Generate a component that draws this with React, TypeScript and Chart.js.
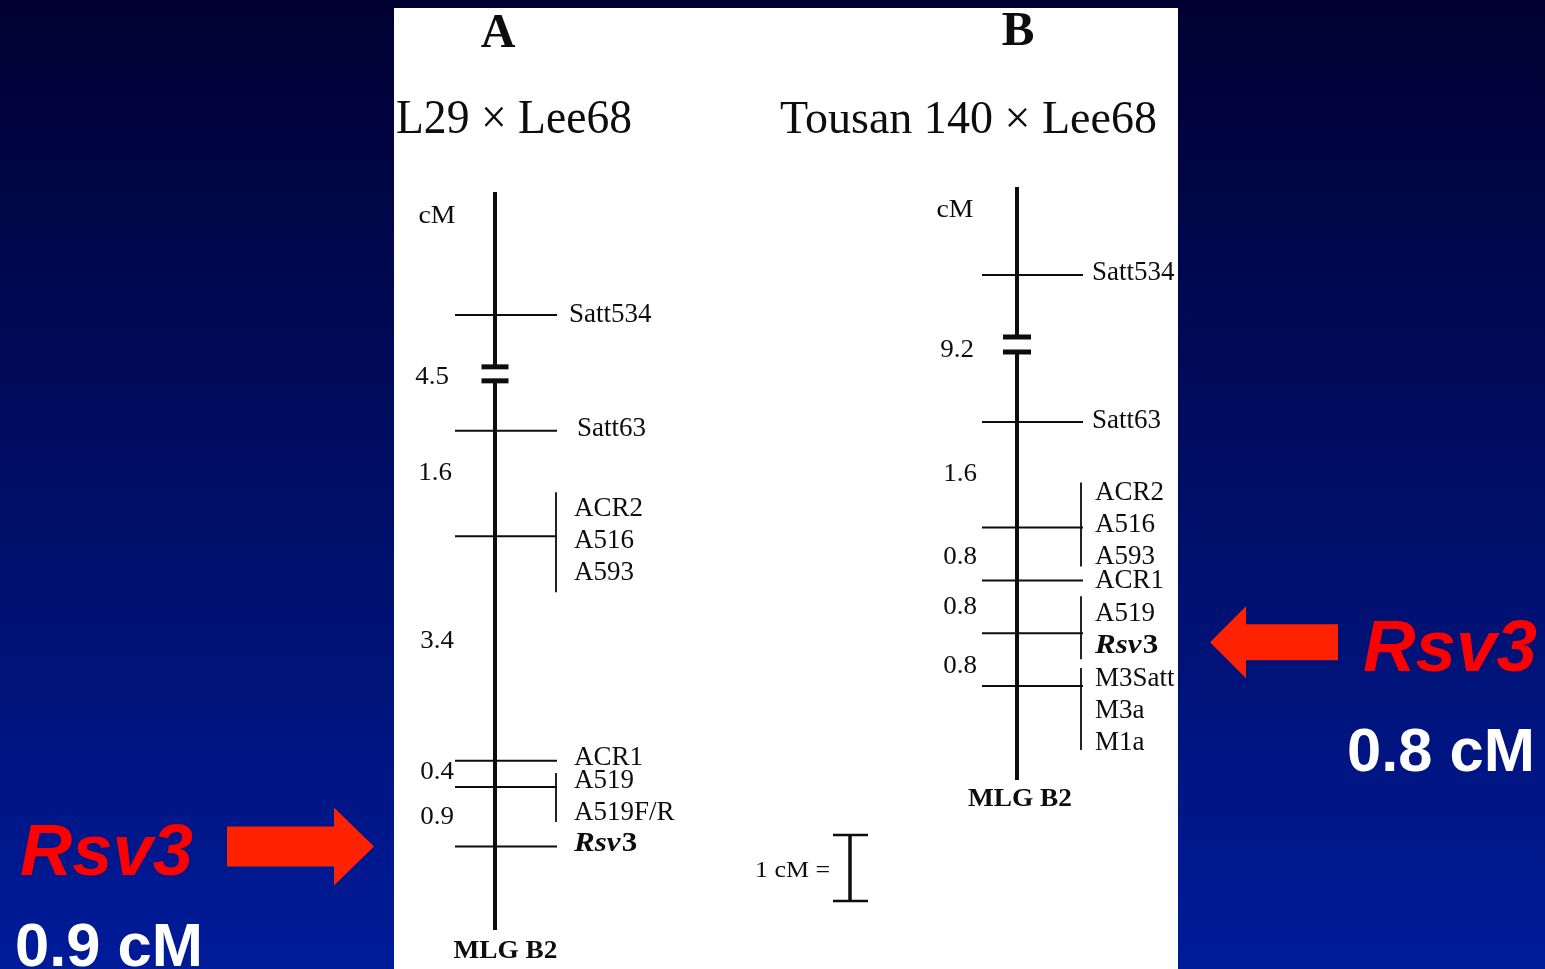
import React, { useEffect, useRef } from "react";
import { Chart, registerables } from "chart.js";

Chart.register(...registerables);

// ---------------- data ----------------
const mapTitles = ["A", "B"];
const crossNames = ["L29 × Lee68", "Tousan 140 × Lee68"];
const unitLabel = "cM";
const groupName = "MLG B2";

// Map A (L29 × Lee68): marker groups top→bottom and the cM intervals between them
const markersA: string[][] = [
  ["Satt534"],
  ["Satt63"],
  ["ACR2", "A516", "A593"],
  ["ACR1"],
  ["A519", "A519F/R"],
  ["Rsv3"],
];
const intervalsA = [4.5, 1.6, 3.4, 0.4, 0.9];
const brokenA = [true, false, false, false, false];

// Map B (Tousan 140 × Lee68)
const markersB: string[][] = [
  ["Satt534"],
  ["Satt63"],
  ["ACR2", "A516", "A593"],
  ["ACR1"],
  ["A519", "Rsv3"],
  ["M3Satt", "M3a", "M1a"],
];
const intervalsB = [9.2, 1.6, 0.8, 0.8, 0.8];
const brokenB = [true, false, false, false, false];

const scaleBarCM = 1;
const scaleBarLabel = "1 cM =";
const geneName = "Rsv3";
const geneDistLabels = ["0.9 cM", "0.8 cM"];

// ---------------- layout / style ----------------
const W = 1545;
const H = 969;
const PX = 66; // pixels per cM
const INK = "#0d0d0d";
const SERIF = '"Liberation Serif", "DejaVu Serif", serif';
const SANS = '"Liberation Sans", Arial, sans-serif';
const PANEL = { x0: 394, x1: 1178, y0: 8, y1: 969 };

type Layout = {
  zeroPx: number; breakLen: number; topPad: number; bottomPad: number;
  axisX: number; tickL: number; tickR: number; bracketX: number;
  labelX: number; labelDX: number[]; labelDY: number[]; labelGap: number;
  brackets: (number[] | null)[];
  distX: number[]; distDY: number[];
  cm: number[]; lg: number[];
  breakDY: number; breakHalfW: number; breakGap: number;
  titleX: number; titleBase: number; titleSize: number;
  crossX: number; crossBase: number; crossSize: number; crossW: number;
};

const layoutA: Layout = {
  zeroPx: 315, breakLen: 1.753, topPad: 1.864, bottomPad: 1.265,
  axisX: 495, tickL: 455, tickR: 557, bracketX: 556,
  labelX: 574, labelDX: [-5, 3, 0, 0, 0, 0], labelDY: [7, 5, -20, 4, 1, 5], labelGap: 32,
  brackets: [null, null, [-44, 56], null, [-14, 35], null],
  distX: [432, 435, 437, 437, 437], distDY: [2.5, -12, -8.5, -3.5, -1.5],
  cm: [437, 223], lg: [505.5, 958],
  breakDY: 1, breakHalfW: 13.5, breakGap: 7,
  titleX: 498, titleBase: 47, titleSize: 48,
  crossX: 396, crossBase: 133, crossSize: 48, crossW: 236,
};

const layoutB: Layout = {
  zeroPx: 275, breakLen: 2.227, topPad: 1.333, bottomPad: 1.424,
  axisX: 1017, tickL: 982, tickR: 1083, bracketX: 1081,
  labelX: 1095, labelDX: [-3, -3, 0, 0, 0, 0], labelDY: [5, 6, -28, 8, -12, 0], labelGap: 32,
  brackets: [null, null, [-45, 39], null, [-37, 26], [-18, 64]],
  distX: [957, 960, 960, 960, 960], distDY: [0, -2, 1.5, -1.5, 5],
  cm: [955, 217], lg: [1020, 806],
  breakDY: -4, breakHalfW: 14, breakGap: 7.5,
  titleX: 1018, titleBase: 45, titleSize: 49,
  crossX: 780, crossBase: 133, crossSize: 47, crossW: 377,
};

function positions(intervals: number[], broken: boolean[], breakLen: number) {
  const p = [0];
  intervals.forEach((d, i) => p.push(p[i] + (broken[i] ? breakLen : d)));
  return p;
}

function txt(
  ctx: CanvasRenderingContext2D, s: string, x: number, y: number, font: string,
  color: string, align: "left" | "center" | "right" = "left", opts: { fit?: number; sx?: number } = {}
) {
  ctx.save();
  ctx.font = font;
  ctx.fillStyle = color;
  ctx.textBaseline = "alphabetic";
  ctx.textAlign = "left";
  const w = ctx.measureText(s).width;
  const sx = opts.fit ? opts.fit / w : opts.sx ?? 1;
  const ww = w * sx;
  const left = align === "center" ? x - ww / 2 : align === "right" ? x - ww : x;
  ctx.translate(left, y);
  ctx.scale(sx, 1);
  ctx.fillText(s, 0, 0);
  ctx.restore();
}

function geneLabel(ctx: CanvasRenderingContext2D, x: number, y: number, fit: number) {
  ctx.save();
  const f1 = `italic bold 27px ${SERIF}`;
  const f2 = `bold 27px ${SERIF}`;
  ctx.font = f1;
  const w1 = ctx.measureText("Rsv").width;
  ctx.font = f2;
  const w2 = ctx.measureText("3").width;
  const sx = fit / (w1 + w2);
  ctx.translate(x, y);
  ctx.scale(sx, 1);
  ctx.fillStyle = INK;
  ctx.textBaseline = "alphabetic";
  ctx.font = f1;
  ctx.fillText("Rsv", 0, 0);
  ctx.font = f2;
  ctx.fillText("3", w1 + 1, 0);
  ctx.restore();
}

function arrow(
  ctx: CanvasRenderingContext2D, tipX: number, tailX: number, headLen: number,
  y: number, halfShaft: number, halfHead: number, color: string
) {
  const dir = Math.sign(tipX - tailX);
  const baseX = tipX - dir * headLen;
  ctx.save();
  ctx.fillStyle = color;
  ctx.beginPath();
  ctx.moveTo(tailX, y - halfShaft);
  ctx.lineTo(baseX, y - halfShaft);
  ctx.lineTo(baseX, y - halfHead);
  ctx.lineTo(tipX, y);
  ctx.lineTo(baseX, y + halfHead);
  ctx.lineTo(baseX, y + halfShaft);
  ctx.lineTo(tailX, y + halfShaft);
  ctx.closePath();
  ctx.fill();
  ctx.restore();
}

export default function App() {
  const ref = useRef<HTMLCanvasElement>(null);

  useEffect(() => {
    const canvas = ref.current;
    if (!canvas) return;

    const maps = [
      { markers: markersA, intervals: intervalsA, broken: brokenA, L: layoutA, yId: "yA" },
      { markers: markersB, intervals: intervalsB, broken: brokenB, L: layoutB, yId: "yB" },
    ].map((m) => ({ ...m, pos: positions(m.intervals, m.broken, m.L.breakLen) }));

    const datasets: any[] = [];
    const seg = (yId: string, x1: number, y1: number, x2: number, y2: number, w: number) =>
      datasets.push({
        data: [{ x: x1, y: y1 }, { x: x2, y: y2 }],
        xAxisID: "x",
        yAxisID: yId,
        showLine: true,
        borderColor: INK,
        backgroundColor: INK,
        borderWidth: w,
        pointRadius: 0,
        pointHoverRadius: 0,
        fill: false,
        tension: 0,
      });

    maps.forEach((m) => {
      const { L, pos, yId } = m;
      const top = -L.topPad;
      const bottom = pos[pos.length - 1] + L.bottomPad;
      let start = top;
      m.broken.forEach((b, i) => {
        if (!b) return;
        const c = (pos[i] + pos[i + 1]) / 2 + L.breakDY / PX;
        const g = L.breakGap / PX;
        seg(yId, L.axisX, start, L.axisX, c - g, 4);
        seg(yId, L.axisX - L.breakHalfW, c - g, L.axisX + L.breakHalfW, c - g, 5);
        seg(yId, L.axisX - L.breakHalfW, c + g, L.axisX + L.breakHalfW, c + g, 5);
        start = c + g;
      });
      seg(yId, L.axisX, start, L.axisX, bottom, 4);
      pos.forEach((p, gi) => {
        seg(yId, L.tickL, p, L.tickR, p, 2);
        const br = L.brackets[gi];
        if (br) seg(yId, L.bracketX, p + br[0] / PX, L.bracketX, p + br[1] / PX, 1.8);
      });
    });

    // scale bar (1 cM) drawn on map A's scale
    const sbTop = (835 - layoutA.zeroPx) / PX;
    seg("yA", 850, sbTop, 850, sbTop + scaleBarCM, 3.5);
    seg("yA", 833, sbTop, 868, sbTop, 2.5);
    seg("yA", 833, sbTop + scaleBarCM, 868, sbTop + scaleBarCM, 2.5);

    const bgPlugin = {
      id: "bg",
      beforeDraw(chart: any) {
        const ctx = chart.ctx as CanvasRenderingContext2D;
        ctx.save();
        const g = ctx.createLinearGradient(0, 0, 0, H);
        g.addColorStop(0, "#000031");
        g.addColorStop(1, "#001b99");
        ctx.fillStyle = g;
        ctx.fillRect(0, 0, W, H);
        ctx.fillStyle = "#ffffff";
        ctx.fillRect(PANEL.x0, PANEL.y0, PANEL.x1 - PANEL.x0, PANEL.y1 - PANEL.y0);
        ctx.restore();
      },
    };

    const textPlugin = {
      id: "texts",
      afterDatasetsDraw(chart: any) {
        const ctx = chart.ctx as CanvasRenderingContext2D;
        const xs = chart.scales.x;
        const X = (v: number) => xs.getPixelForValue(v);

        ctx.save();
        ctx.beginPath();
        ctx.rect(PANEL.x0, PANEL.y0, PANEL.x1 - PANEL.x0, PANEL.y1 - PANEL.y0);
        ctx.clip();
        maps.forEach((m, mi) => {
          const { L, pos } = m;
          const ys = chart.scales[m.yId];
          const P = (v: number) => ys.getPixelForValue(v);
          txt(ctx, mapTitles[mi], X(L.titleX), L.titleBase, `bold ${L.titleSize}px ${SERIF}`, INK, "center");
          txt(ctx, crossNames[mi], X(L.crossX), L.crossBase, `${L.crossSize}px ${SERIF}`, INK, "left", { fit: L.crossW });
          txt(ctx, unitLabel, X(L.cm[0]), L.cm[1], `25px ${SERIF}`, INK, "center", { fit: 37 });
          m.intervals.forEach((d, i) => {
            const c = (P(pos[i]) + P(pos[i + 1])) / 2 + L.distDY[i];
            txt(ctx, d.toFixed(1), X(L.distX[i]), c + 8.5, `25px ${SERIF}`, INK, "center", { sx: 1.08 });
          });
          m.markers.forEach((grp, gi) => {
            const tp = P(pos[gi]);
            grp.forEach((name, i) => {
              const bx = X(L.labelX + L.labelDX[gi]);
              const by = tp + L.labelDY[gi] + i * L.labelGap;
              if (name === geneName) geneLabel(ctx, bx, by, 62);
              else txt(ctx, name, bx, by, `27px ${SERIF}`, INK, "left");
            });
          });
          txt(ctx, groupName, X(L.lg[0]), L.lg[1], `bold 25px ${SERIF}`, INK, "center", { fit: 104 });
        });
        txt(ctx, scaleBarLabel, X(755), 877, `24px ${SERIF}`, INK, "left", { fit: 75 });
        ctx.restore();

        // callouts
        const yA = chart.scales.yA;
        const yB = chart.scales.yB;
        const gA = markersA.findIndex((g) => g.includes(geneName));
        const gB = markersB.findIndex((g) => g.includes(geneName));
        const ayA = yA.getPixelForValue(maps[0].pos[gA]);
        const ayB = yB.getPixelForValue(maps[1].pos[gB]) + 9;
        arrow(ctx, X(374), X(227), 40, ayA, 20, 39, "#ff2200");
        arrow(ctx, X(1210), X(1338), 36, ayB, 18, 36, "#ff2200");
        txt(ctx, geneName, X(20), ayA + 29, `italic bold 72px ${SANS}`, "#ff0000", "left", { fit: 173 });
        txt(ctx, geneDistLabels[0], X(15), ayA + 120, `bold 61px ${SANS}`, "#ffffff", "left", { fit: 188 });
        txt(ctx, geneName, X(1363), ayB + 29, `italic bold 72px ${SANS}`, "#ff0000", "left", { fit: 174 });
        txt(ctx, geneDistLabels[1], X(1347), ayB + 129, `bold 61px ${SANS}`, "#ffffff", "left", { fit: 188 });
      },
    };

    const yScale = (L: Layout) => ({
      type: "linear" as const,
      reverse: true,
      display: false,
      min: -L.zeroPx / PX,
      max: (H - L.zeroPx) / PX,
    });

    const chart = new Chart(canvas, {
      type: "scatter",
      data: { datasets },
      options: {
        animation: false,
        responsive: false,
        maintainAspectRatio: false,
        events: [],
        layout: { padding: 0 },
        plugins: {
          legend: { display: false },
          tooltip: { enabled: false },
          title: { display: false },
        },
        scales: {
          x: { type: "linear", min: 0, max: W, display: false },
          yA: yScale(layoutA),
          yB: yScale(layoutB),
        } as any,
      },
      plugins: [bgPlugin, textPlugin],
    });

    return () => chart.destroy();
  }, []);

  return (
    <div style={{ position: "fixed", left: 0, top: 0, width: W, height: H, overflow: "hidden" }}>
      <canvas ref={ref} width={W} height={H} style={{ display: "block", width: W, height: H }} />
    </div>
  );
}
